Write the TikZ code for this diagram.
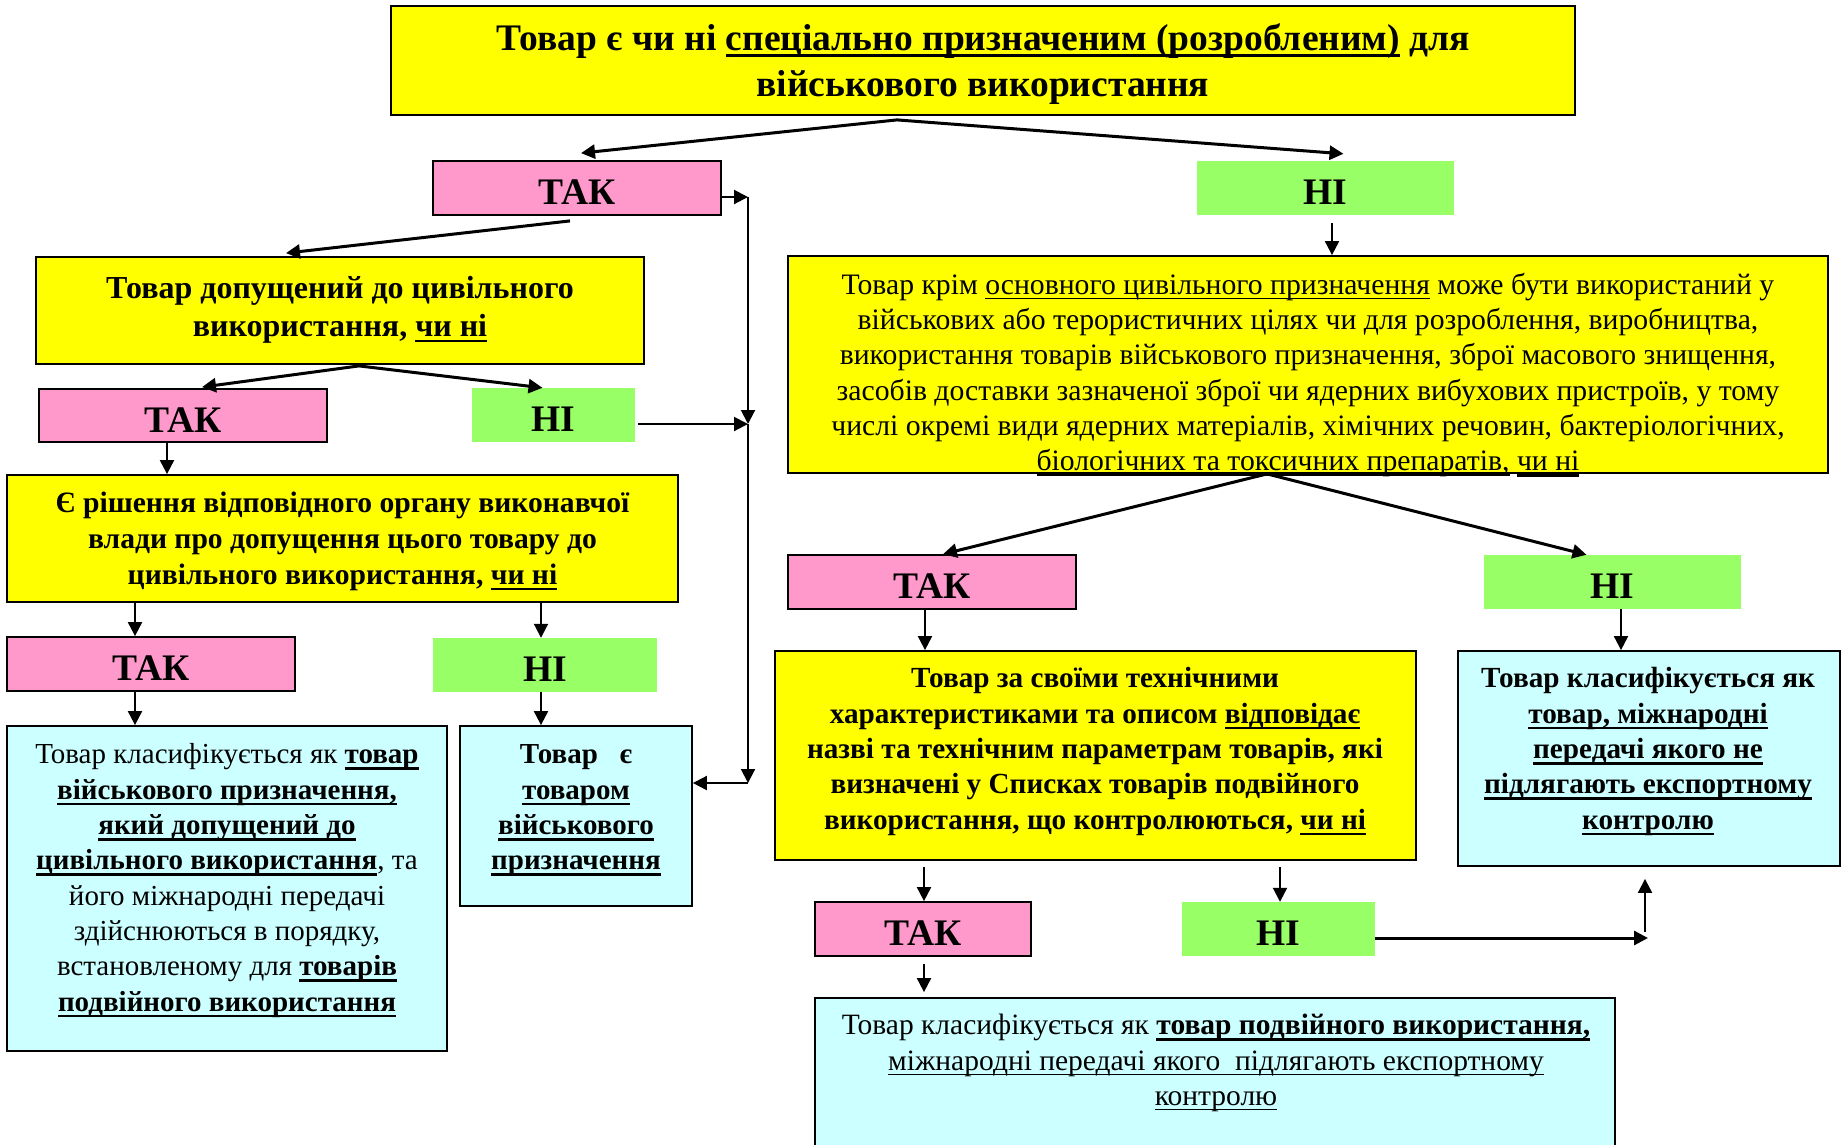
\documentclass[tikz,border=0pt]{standalone}
\usepackage{fontspec}
\setmainfont{Liberation Serif}
\usetikzlibrary{arrows.meta,calc}
\definecolor{ylw}{RGB}{255,255,0}
\definecolor{pnk}{RGB}{255,153,204}
\definecolor{grn}{RGB}{153,255,102}
\definecolor{cyn}{RGB}{204,255,255}
\newcommand\ulx[2]{\leavevmode\setbox0\hbox{#2}\rlap{\vrule height -3.5pt depth \dimexpr3.5pt+#1\relax width \wd0}\box0\relax}
\newcommand\uul[1]{\ulx{2.6pt}{#1}}
\newcommand\ub[1]{\ulx{2.6pt}{\bfseries #1}}
\newcommand\ur[1]{\ulx{1.4pt}{#1}}
\begin{document}
\begin{tikzpicture}[x=1pt,y=-1pt,
  box/.style={draw=black, line width=1.8pt, inner sep=0pt, align=center},
  yb/.style={box, fill=ylw},
  lbl/.style={inner sep=0pt, align=center, text height=33pt, text depth=0pt, font=\fontsize{37.5}{40}\selectfont\bfseries},
  pb/.style={box, lbl, fill=pnk},
  gb/.style={lbl, fill=grn},
  cb/.style={box, fill=cyn},
  txt/.style={align=center, inner sep=0pt, font=\fontsize{29}{35.3}\selectfont},
  arr/.style={-{Triangle[length=14pt,width=14pt]}, line width=2pt},
  arrT/.style={arr, line width=3pt},
]
\useasboundingbox (0,0) rectangle (1843,1144);
\fill[white] (0,0) rectangle (1843,1144);
\clip (0,0) rectangle (1843,1144);

% boxes
\node[yb, minimum width=1184pt, minimum height=109pt] (title) at (983,60.5) {};
\node[align=center, inner sep=0pt, font=\fontsize{37.5}{46}\selectfont\bfseries] (tTitle) at (983,64)
  {Товар є чи ні \uul{спеціально призначеним (розробленим)} для\\ військового використання};
\node[pb, minimum width=288pt, minimum height=54pt] (tak1) at (577,188) {ТАК};
\node[gb, minimum width=257pt, minimum height=54pt] (ni1) at (1325.5,188) {НІ};

\node[yb, minimum width=608pt, minimum height=107pt] (boxA) at (340,310.5) {};
\node[align=center, inner sep=0pt, font=\fontsize{32}{37.6}\selectfont\bfseries] (tA) at (340,309.5)
  {Товар допущений до цивільного\\ використання, \uul{чи ні}};
\node[pb, minimum width=288pt, minimum height=53pt] (tak2) at (183,415.5) {ТАК};
\node[gb, minimum width=163pt, minimum height=54pt] (ni2) at (553.5,415) {НІ};

\node[yb, minimum width=671pt, minimum height=127pt] (boxB) at (342.5,538.5) {};
\node[align=center, inner sep=0pt, font=\fontsize{29.6}{36}\selectfont\bfseries] (tBB) at (342.5,541)
  {Є рішення відповідного органу виконавчої\\ влади про допущення цього товару до\\ цивільного використання, \uul{чи ні}};
\node[pb, minimum width=288pt, minimum height=54pt] (tak3) at (151,664) {ТАК};
\node[gb, minimum width=224pt, minimum height=54pt] (ni3) at (545,665) {НІ};

\node[cb, minimum width=440pt, minimum height=325pt] (cyanL) at (227,888.5) {};
\node[txt] (tL) at (227,880.5)
  {Товар класифікується як \ub{товар}\\
   \ub{військового призначення,}\\
   \ub{який допущений до}\\
   \ub{цивільного використання}, та\\
   його міжнародні передачі\\
   здійснюються в порядку,\\
   встановленому для \ub{товарів}\\
   \ub{подвійного використання}};

\node[cb, minimum width=232pt, minimum height=180pt] (cyanM) at (576,816) {};
\node[txt, font=\fontsize{29}{35.3}\selectfont\bfseries] (tM) at (576,810.5)
  {Товар \ \ є\\ \uul{товаром}\\ \uul{військового}\\ \uul{призначення}};

\node[yb, minimum width=1040pt, minimum height=217pt] (bigY) at (1308,364.5) {};
\node[txt, font=\fontsize{29.7}{35.3}\selectfont] (tBig) at (1308,375)
  {Товар крім \ur{основного цивільного призначення} може бути використаний у\\
   військових або терористичних цілях чи для розроблення, виробництва,\\
   використання товарів військового призначення, зброї масового знищення,\\
   засобів доставки зазначеної зброї чи ядерних вибухових пристроїв, у тому\\
   числі окремі види ядерних матеріалів, хімічних речовин, бактеріологічних,\\
   \ur{біологічних та токсичних препаратів,} \uul{чи ні}};
\node[pb, minimum width=288pt, minimum height=54pt] (tak4) at (932,582) {ТАК};
\node[gb, minimum width=257pt, minimum height=54pt] (ni4) at (1612.5,582) {НІ};

\node[yb, minimum width=641pt, minimum height=209pt] (y2) at (1095.5,755.5) {};
\node[txt, font=\fontsize{29.2}{35.3}\selectfont\bfseries] (tY2) at (1095,751.5)
  {Товар за своїми технічними\\
   характеристиками та описом \uul{відповідає}\\
   назві та технічним параметрам товарів, які\\
   визначені у Списках товарів подвійного\\
   використання, що контролюються, \uul{чи ні}};

\node[cb, minimum width=382pt, minimum height=215pt] (cyanR) at (1649,758.5) {};
\node[txt, font=\fontsize{29.2}{35.3}\selectfont\bfseries] (tR) at (1648,751.5)
  {Товар класифікується як\\
   \uul{товар, міжнародні}\\
   \uul{передачі якого не}\\
   \uul{підлягають експортному}\\
   \uul{контролю}};

\node[pb, minimum width=216pt, minimum height=54pt] (tak5) at (923,929) {ТАК};
\node[gb, minimum width=193pt, minimum height=54pt] (ni5) at (1278.5,929) {НІ};

\node[cb, minimum width=800pt, minimum height=170pt] (cyanB) at (1215,1083) {};
\node[txt, font=\fontsize{29.5}{35.3}\selectfont] (tB) at (1216,1063)
  {Товар класифікується як \ub{товар подвійного використання,}\\
   \ur{міжнародні передачі якого \ підлягають експортному}\\
   \ur{контролю}};

% helper coordinates
\coordinate (v1) at (748,197);
\coordinate (v2) at (748,424);
\coordinate (v3) at (748,783);
\coordinate (c1) at (1648,938);
\coordinate (c2) at (1645,932);

% connectors
\coordinate (ts) at ($(title.south)+(-86,4)$);
\draw[arrT] (ts) -- ($(tak1.north)+(4,-7)$);
\draw[arrT] (ts) -- ($(ni1.north)+(18,-7)$);
\draw[arrT] ($(tak1.south)+(-7,5)$) -- ($(boxA.north)+(-54,-3)$);
\draw[arr] ($(tak1.east)+(0,9)$) -- (v1);
\draw[arr] (v1) -- (v2);
\draw[arr] (v2) -- (v3);
\draw[arr] (v3) -- (v3 -| cyanM.east);
\draw[arrT] ($(boxA.south)+(19,1)$) -- ($(tak2.north)+(19,-1)$);
\draw[arrT] ($(boxA.south)+(19,1)$) -- ($(ni2.north)+(-11,0)$);
\draw[arr] (tak2.south -| 167,0) -- (boxB.north -| 167,0);
\draw[arr] ($(ni2.east)+(3,9)$) -- (v2);
\draw[arr] (boxB.south -| 135,0) -- (tak3.north -| 135,0);
\draw[arr] (tak3.south -| 135,0) -- (cyanL.north -| 135,0);
\draw[arr] (boxB.south -| 541,0) -- (ni3.north -| 541,0);
\draw[arr] (ni3.south -| 541,0) -- (cyanM.north -| 541,0);
\draw[arr, shorten <=8pt] (ni1.south -| 1332,0) -- (bigY.north -| 1332,0);
\draw[arrT] (bigY.south -| 1267,0) -- ($(tak4.north)+(11,0)$);
\draw[arrT] (bigY.south -| 1267,0) -- ($(ni4.north)+(-26,0)$);
\draw[arr] (tak4.south -| 925,0) -- (y2.north -| 925,0);
\draw[arr] (ni4.south -| 1621,0) -- (cyanR.north -| 1621,0);
\draw[arr, shorten <=6pt] (y2.south -| 924,0) -- (tak5.north -| 924,0);
\draw[arr, shorten <=6pt] (y2.south -| 1280,0) -- (ni5.north -| 1280,0);
\draw[arr, shorten <=7pt, shorten >=5pt] (tak5.south -| 924,0) -- (cyanB.north -| 924,0);
\draw[arrT] ($(ni5.east)+(0,9)$) -- (c1);
\draw[arr, shorten >=12pt] (c2) -- (cyanR.south -| c2);
\end{tikzpicture}
\end{document}
